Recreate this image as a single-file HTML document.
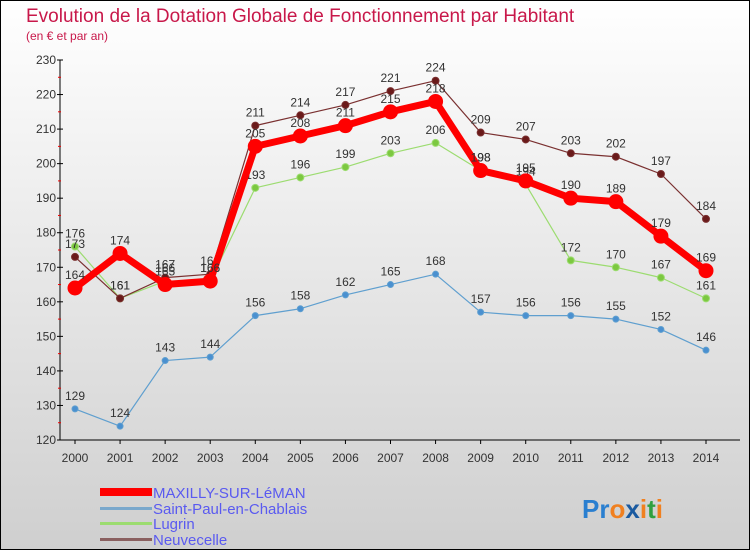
<!DOCTYPE html>
<html><head><meta charset="utf-8"><style>
html,body{margin:0;padding:0}
body{width:750px;height:550px;overflow:hidden;font-family:"Liberation Sans",sans-serif}
</style></head><body>
<svg id="c" width="750" height="550" xmlns="http://www.w3.org/2000/svg">
<defs><linearGradient id="bg" x1="0" y1="0" x2="0" y2="1"><stop offset="0" stop-color="#ffffff"/><stop offset="1" stop-color="#cfcfcf"/></linearGradient></defs>
<rect x="0.5" y="0.5" width="749" height="549" fill="url(#bg)" stroke="#000"/>
<text x="26" y="22" font-size="19" fill="#c8184a">Evolution de la Dotation Globale de Fonctionnement par Habitant</text>
<text x="26" y="40" font-size="12" fill="#c8184a">(en € et par an)</text>
<g id="axes"></g><g id="series"></g>
<g font-size="15" fill="#5a5af0">
<rect x="100" y="488" width="52" height="8" fill="#f00"/>
<text x="153" y="498">MAXILLY-SUR-LéMAN</text>
<rect x="100" y="507" width="52" height="3" fill="#7aa8cc"/>
<text x="153" y="514">Saint-Paul-en-Chablais</text>
<rect x="100" y="522" width="52" height="3" fill="#9cdc70"/>
<text x="153" y="529">Lugrin</text>
<rect x="100" y="538" width="52" height="3" fill="#8a6060"/>
<text x="153" y="545">Neuvecelle</text>
</g>
<text x="582" y="518" font-size="26" font-weight="bold"><tspan fill="#2a7fd0">Pr</tspan><tspan fill="#f08020">o</tspan><tspan fill="#1a5aa0">x</tspan><tspan fill="#f08020">i</tspan><tspan fill="#30a040">t</tspan><tspan fill="#f08020">i</tspan></text>
</svg>
<script>
const years=[2000,2001,2002,2003,2004,2005,2006,2007,2008,2009,2010,2011,2012,2013,2014];
const maxilly=[164,174,165,166,205,208,211,215,218,198,195,190,189,179,169];
const saintPaul=[129,124,143,144,156,158,162,165,168,157,156,156,155,152,146];
const lugrin=[176,161,166,166,193,196,199,203,206,198,194,172,170,167,161];
const neuvecelle=[173,161,167,168,211,214,217,221,224,209,207,203,202,197,184];
const yTicks=[120,130,140,150,160,170,180,190,200,210,220,230];
const NS="http://www.w3.org/2000/svg";
const X0=75,X1=706,Y0=440,Y1=60,YMIN=120,YMAX=230;
const xs=i=>X0+(X1-X0)*i/(years.length-1);
const ys=v=>Y0-(v-YMIN)*(Y0-Y1)/(YMAX-YMIN);
function mk(t,a,p){const e=document.createElementNS(NS,t);for(const k in a)e.setAttribute(k,a[k]);p.appendChild(e);return e;}
const ax=document.getElementById('axes');
let l=mk('line',{x1:60,y1:Y1,x2:60,y2:Y0,stroke:'#000'},ax);


l=mk('line',{x1:60,y1:Y0,x2:740,y2:Y0,stroke:'#000'},ax);


yTicks.forEach(v=>{
  mk('line',{x1:57,x2:63,y1:ys(v),y2:ys(v),stroke:'#000'},ax);
  if(v<YMAX)mk('line',{x1:58,x2:61,y1:ys(v+5),y2:ys(v+5),stroke:'#e00'},ax);
  const t=mk('text',{x:56,y:ys(v)+4,'text-anchor':'end','font-size':12,fill:'#333'},ax);
  t.textContent=v;
  
  
});
years.forEach((y,i)=>{
  mk('line',{x1:xs(i),x2:xs(i),y1:Y0,y2:Y0+4,stroke:'#000'},ax);
  const t=mk('text',{x:xs(i),y:Y0+22,'text-anchor':'middle','font-size':12,fill:'#333'},ax);
  t.textContent=y;
  
  
});
const sg=document.getElementById('series');
function draw(data,color,w,r,dot,name){
  const g=mk('g',{},sg);
  
  
  const pl=mk('polyline',{points:data.map((v,i)=>xs(i)+','+ys(v)).join(' '),fill:'none',stroke:color,'stroke-width':w,'stroke-linejoin':'round'},g);
  
  
  data.forEach((v,i)=>{
    const c=mk('circle',{cx:xs(i),cy:ys(v),r:r,fill:dot,stroke:color,'stroke-width':1},g);
    
    
    const t=mk('text',{x:xs(i),y:ys(v)-9,'text-anchor':'middle','font-size':12,fill:'#333'},g);
    t.textContent=v;
    
    
  });
}
draw(saintPaul,'#5f9fcf',1.2,3,'#4a90d0','saint-paul-series');
draw(lugrin,'#9cdc70',1.2,3.5,'#7cc840','lugrin-series');
draw(neuvecelle,'#7a3030',1.2,3.5,'#6a1a1a','neuvecelle-series');
draw(maxilly,'#f00',7,7,'#f00','maxilly-series');
</script>
</body></html>
